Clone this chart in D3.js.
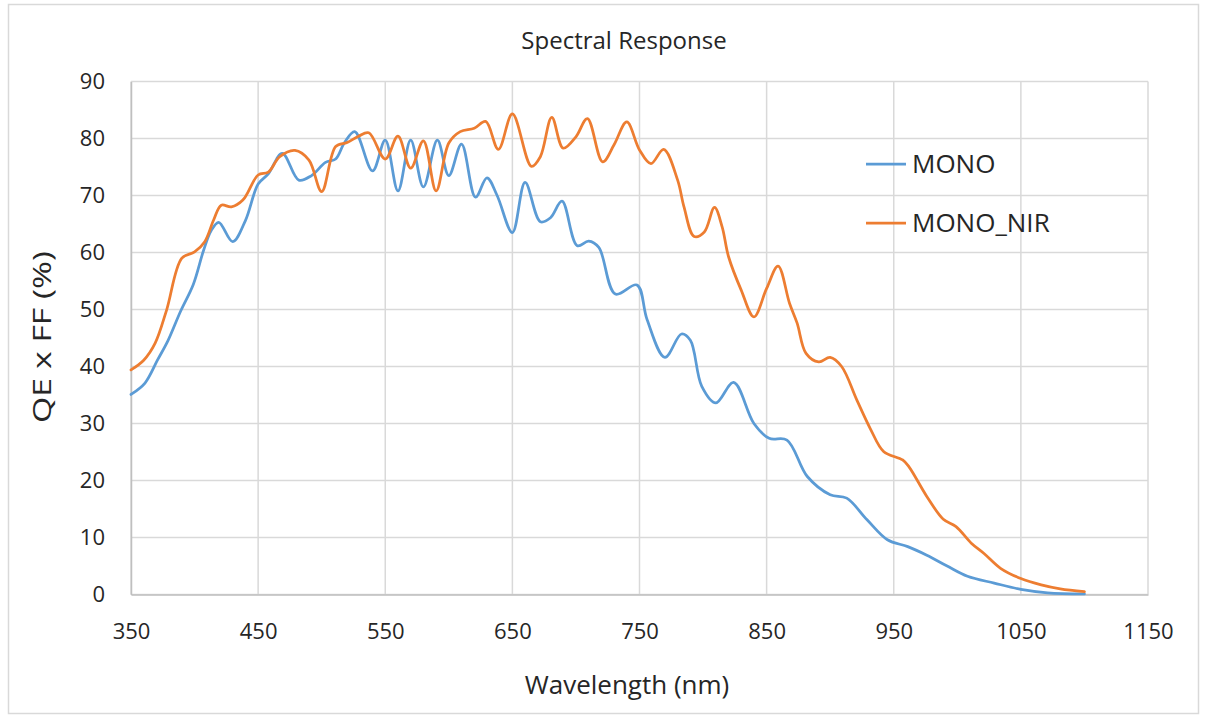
<!DOCTYPE html>
<html>
<head>
<meta charset="utf-8">
<script src="https://cdn.jsdelivr.net/npm/d3@7"></script>
<style>
  html, body { margin: 0; padding: 0; background: #fff; }
  svg text { font-family: "Open Sans", "Noto Sans", sans-serif; fill: #262626; }
</style>
</head>
<body>
<div id="chart"></div>
<script>
// wavelength (nm) and QE x FF (%)
const monoNm = [350, 361, 371, 379, 389, 399, 407, 413, 419, 430, 440, 450, 458, 469, 482, 492, 503, 511, 518, 526,
    540, 550, 560, 570, 580, 591, 600, 610, 621, 630, 638, 650, 660, 672, 680, 689, 701, 710, 718, 731,
    748, 756, 770, 783, 790, 799, 810, 824, 840, 852, 866, 882, 900, 913, 929, 945, 961, 976, 992, 1008,
    1029, 1050, 1071, 1100];
const monoQe = [35.1, 37.1, 41.2, 44.5, 49.7, 54.4, 60.3, 63.8, 65.3, 61.9, 65.6, 72.0, 73.8, 77.4, 72.7, 73.5, 75.8, 76.4, 79.3, 81.2,
    74.3, 79.7, 70.8, 79.7, 71.5, 79.7, 73.5, 79.0, 69.7, 73.1, 70.0, 63.5, 72.3, 65.4, 66.1, 69.0, 61.2, 62.0, 60.9, 52.7,
    54.3, 48.2, 41.6, 45.7, 44.6, 36.5, 33.6, 37.2, 30.0, 27.4, 27.1, 20.7, 17.5, 16.9, 13.1, 9.6, 8.4, 6.9, 5.0, 3.2,
    2.0, 0.9, 0.3, 0.1];

const nirNm = [350, 360, 369, 378, 390, 400, 408, 415, 421, 429, 438, 450, 458, 467, 479, 490, 500, 511, 520, 529,
    537, 550, 560, 570, 580, 590, 600, 609, 620, 629, 639, 650, 665, 672, 681, 690, 700, 709, 721, 730,
    740, 750, 759, 769, 780, 785, 793, 801, 809, 815, 820, 830, 840, 850, 859, 868, 874, 881, 891, 900,
    909, 921, 932, 942, 957, 962, 976, 989, 999, 1011, 1021, 1034, 1050, 1066, 1081, 1100];
const nirQe = [39.4, 41.1, 44.1, 49.9, 59.0, 60.1, 61.9, 65.7, 68.3, 68.0, 69.2, 73.6, 74.1, 76.8, 77.9, 76.2, 70.7, 78.6, 79.3, 80.4,
    81.0, 76.4, 80.4, 74.8, 79.6, 70.8, 79.2, 81.2, 81.8, 83.0, 78.1, 84.3, 75.1, 76.8, 83.7, 78.3, 80.3, 83.5, 75.9, 78.9,
    82.9, 78.0, 75.6, 78.1, 72.7, 68.0, 62.8, 63.6, 67.9, 64.5, 59.3, 53.4, 48.7, 53.7, 57.6, 51.1, 47.6, 42.3, 40.8, 41.6,
    40.0, 34.1, 28.9, 25.1, 23.6, 22.4, 17.2, 13.2, 11.9, 9.0, 7.2, 4.6, 2.8, 1.7, 1.0, 0.5];

const xTicks = [350, 450, 550, 650, 750, 850, 950, 1050, 1150];
const yTicks = [0, 10, 20, 30, 40, 50, 60, 70, 80, 90];

const seriesNames = ["MONO", "MONO_NIR"];
const seriesColors = ["#5b9bd5", "#ed7d31"];

const W = 1206, H = 722;
const margin = { top: 81.5, right: 58, bottom: 127.5, left: 131 };
const width = W - margin.left - margin.right;
const height = H - margin.top - margin.bottom;

const svg = d3.select("#chart").append("svg")
    .attr("width", W)
    .attr("height", H);

// outer chart border
svg.append("rect")
    .attr("x", 8.5).attr("y", 4.5)
    .attr("width", 1190).attr("height", 709)
    .attr("fill", "#fff")
    .attr("stroke", "#d9d9d9")
    .attr("stroke-width", 1.5);

svg.append("text")
    .attr("x", 624)
    .attr("y", 49)
    .attr("text-anchor", "middle")
    .style("font-size", "24px")
    .text("Spectral Response");

const g = svg.append("g")
    .attr("transform", `translate(${margin.left},${margin.top})`);

const x = d3.scaleLinear().domain([350, 1150]).range([0, width]);
const y = d3.scaleLinear().domain([0, 90]).range([height, 0]);

// gridlines
g.append("g")
    .selectAll("line.h")
    .data(yTicks)
    .enter().append("line")
    .attr("x1", 0).attr("x2", width)
    .attr("y1", d => y(d)).attr("y2", d => y(d))
    .attr("stroke", "#d9d9d9")
    .attr("stroke-width", 1.5);

g.append("g")
    .selectAll("line.v")
    .data(xTicks)
    .enter().append("line")
    .attr("x1", d => x(d)).attr("x2", d => x(d))
    .attr("y1", 0).attr("y2", height)
    .attr("stroke", "#d9d9d9")
    .attr("stroke-width", 1.5);

// axes (lines only, Excel style)
const xAxis = g.append("g")
    .attr("transform", `translate(0,${height})`)
    .call(d3.axisBottom(x).tickValues(xTicks).tickFormat(d3.format("d")).tickSize(0).tickPadding(29));
xAxis.select(".domain").attr("stroke", "#bfbfbf").attr("stroke-width", 1.5);
xAxis.selectAll("text").style("font-size", "22px").style("font-family", null);

const yAxis = g.append("g")
    .call(d3.axisLeft(y).tickValues(yTicks).tickSize(0).tickPadding(26));
yAxis.select(".domain").attr("stroke", "#bfbfbf").attr("stroke-width", 1.5);
yAxis.selectAll("text").style("font-size", "22px").style("font-family", null);

// axis titles
svg.append("text")
    .attr("x", 627)
    .attr("y", 694)
    .attr("text-anchor", "middle")
    .style("font-size", "26px")
    .text("Wavelength (nm)");

svg.append("text")
    .attr("transform", "rotate(-90)")
    .attr("x", -337)
    .attr("y", 51)
    .attr("text-anchor", "middle")
    .attr("textLength", 172)
    .attr("lengthAdjust", "spacingAndGlyphs")
    .style("font-size", "25px")
    .text("QE x FF (%)");

// series
const series = [
    { name: seriesNames[0], color: seriesColors[0], pts: monoNm.map((n, i) => [n, monoQe[i]]) },
    { name: seriesNames[1], color: seriesColors[1], pts: nirNm.map((n, i) => [n, nirQe[i]]) }
];

const line = d3.line()
    .x(d => x(d[0]))
    .y(d => y(d[1]))
    .curve(d3.curveCatmullRom.alpha(0.5));

g.selectAll(".series")
    .data(series)
    .enter().append("path")
    .attr("class", "series")
    .attr("d", d => line(d.pts))
    .attr("fill", "none")
    .attr("stroke", d => d.color)
    .attr("stroke-width", 2.75)
    .attr("stroke-linejoin", "round")
    .attr("stroke-linecap", "round");

// legend
const legend = svg.append("g")
    .selectAll("g")
    .data(series)
    .enter().append("g")
    .attr("transform", (d, i) => `translate(866,${164 + i * 59})`);

legend.append("line")
    .attr("x1", 0).attr("x2", 40)
    .attr("stroke", d => d.color)
    .attr("stroke-width", 2.75);

legend.append("text")
    .attr("x", 46)
    .attr("y", 9)
    .style("font-size", "26px")
    .text(d => d.name);
</script>
</body>
</html>
